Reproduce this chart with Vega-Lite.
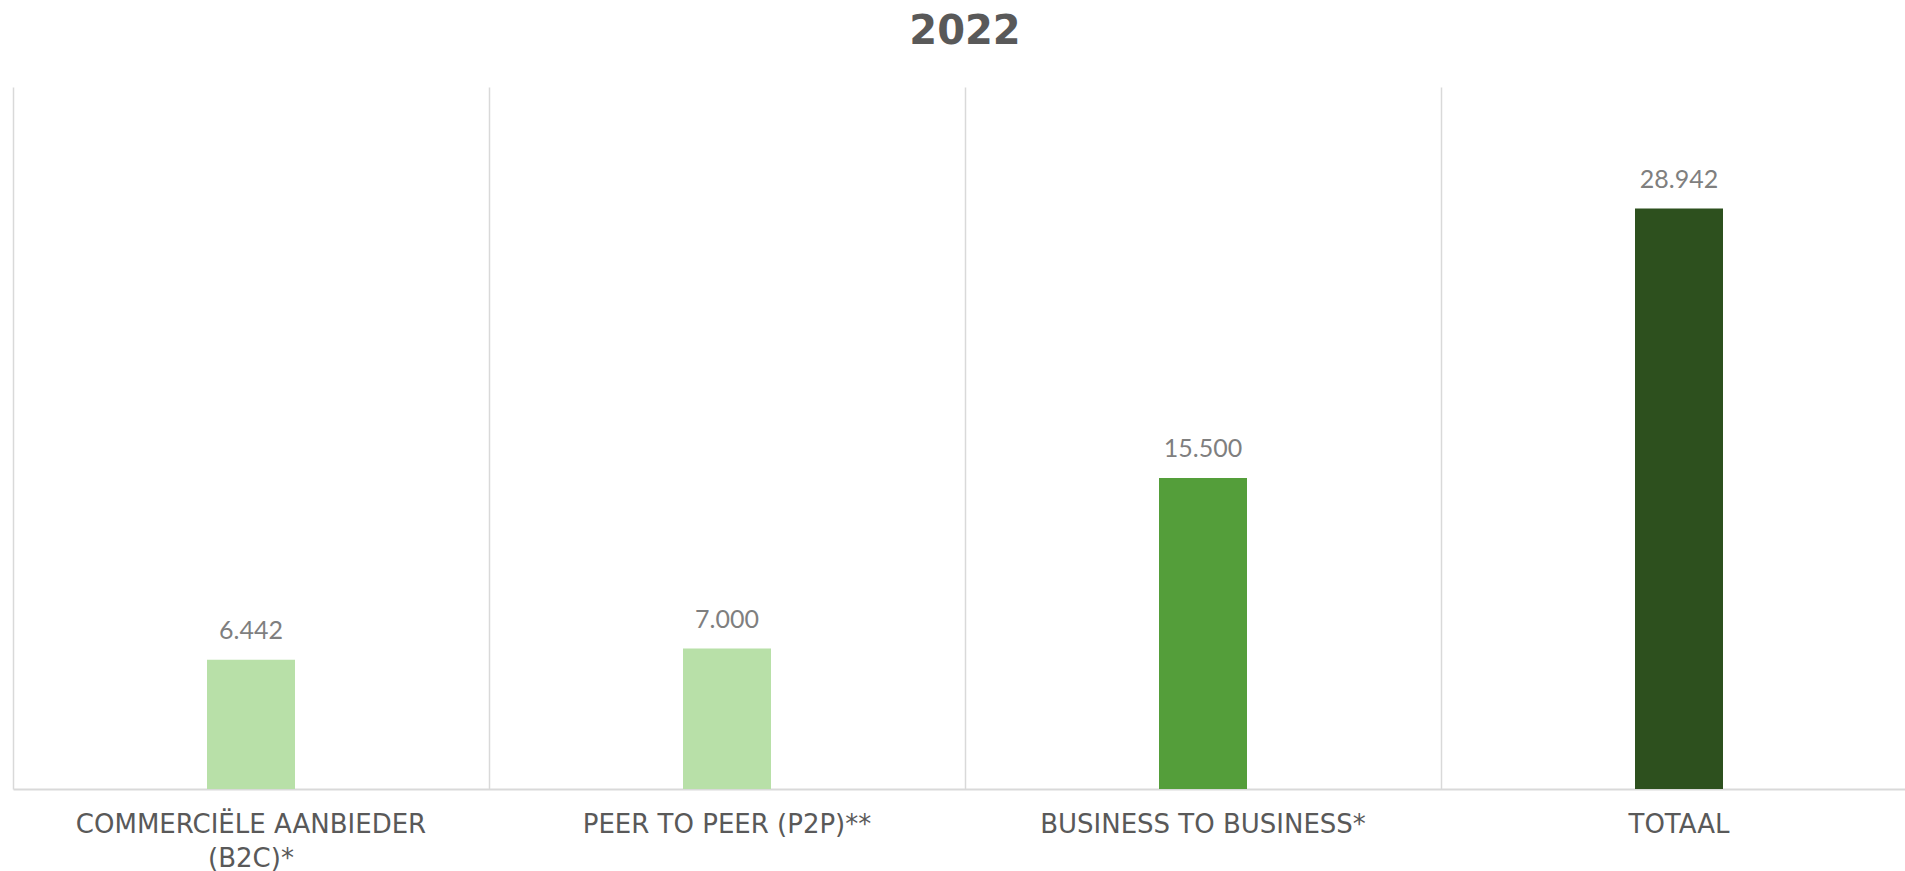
{
  "$schema": "https://vega.github.io/schema/vega-lite/v6.json",
  "autosize": {"type": "none"},
  "width": 1892,
  "height": 702,
  "padding": {"left": 13, "top": 87, "right": 0, "bottom": 82},
  "background": "white",
  "title": {
    "text": "2022",
    "font": "DejaVu Sans",
    "fontWeight": "bold",
    "fontSize": 40,
    "color": "#595959",
    "anchor": "middle",
    "offset": 35,
    "dx": 6
  },
  "data": {
    "values": [
      {"categorie": "COMMERCIËLE AANBIEDER (B2C)*", "aantal": 6442},
      {"categorie": "PEER TO PEER (P2P)**", "aantal": 7000},
      {"categorie": "BUSINESS TO BUSINESS*", "aantal": 15500},
      {"categorie": "TOTAAL", "aantal": 28942}
    ]
  },
  "encoding": {
    "x": {
      "field": "categorie",
      "type": "nominal",
      "sort": null,
      "scale": {"range": [0, 1904], "paddingInner": 0, "paddingOuter": 0},
      "axis": {
        "title": null,
        "labelAngle": 0,
        "bandPosition": 0,
        "grid": true,
        "gridColor": "#D9D9D9",
        "gridWidth": 1.5,
        "ticks": false,
        "domainColor": "#D9D9D9",
        "domainWidth": 2,
        "labelFont": "DejaVu Sans",
        "labelFontSize": 26,
        "labelColor": "#595959",
        "labelPadding": 22,
        "labelLineHeight": 34,
        "labelLimit": 0,
        "labelOverlap": false,
        "labelFlush": false,
        "labelBound": false,
        "labelExpr": "datum.value == 'COMMERCIËLE AANBIEDER (B2C)*' ? ['COMMERCIËLE AANBIEDER', '(B2C)*'] : datum.value"
      }
    },
    "y": {
      "field": "aantal",
      "type": "quantitative",
      "scale": {"domain": [0, 35000]},
      "axis": null
    }
  },
  "layer": [
    {
      "mark": {"type": "bar", "size": 88},
      "encoding": {
        "color": {
          "field": "categorie",
          "type": "nominal",
          "scale": {
            "domain": ["COMMERCIËLE AANBIEDER (B2C)*", "PEER TO PEER (P2P)**", "BUSINESS TO BUSINESS*", "TOTAAL"],
            "range": ["#B8E0A8", "#B8E0A8", "#549E3A", "#2D501E"]
          },
          "legend": null
        }
      }
    },
    {
      "mark": {"type": "text", "baseline": "bottom", "dy": -16, "font": "Lato", "fontSize": 25, "color": "#7F7F7F"},
      "encoding": {
        "text": {"field": "aantal", "type": "quantitative", "format": ",d", "formatType": "number"}
      }
    }
  ],
  "config": {
    "view": {"stroke": null},
    "locale": {"number": {"decimal": ",", "thousands": ".", "grouping": [3], "currency": ["€", ""]}}
  }
}
